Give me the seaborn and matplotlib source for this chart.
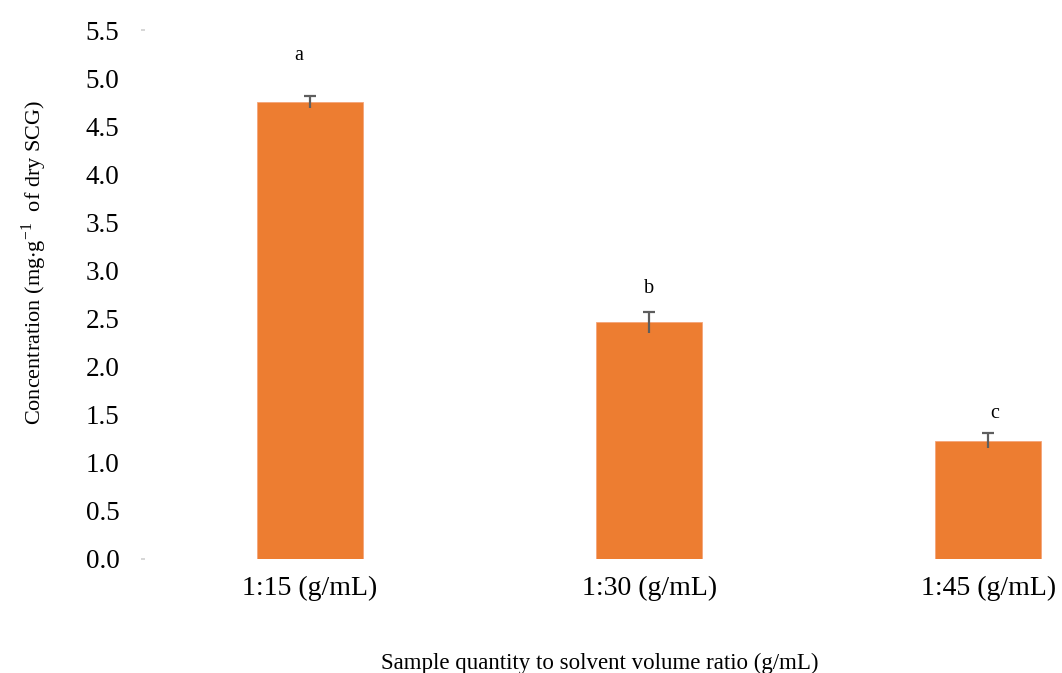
import matplotlib
matplotlib.use("Agg")
import matplotlib.pyplot as plt
import seaborn as sns
import pandas as pd

# Extraction yield for each sample-to-solvent ratio
categories = ["1:15 (g/mL)", "1:30 (g/mL)", "1:45 (g/mL)"]
means = [4.75, 2.46, 1.23]
errors = [0.06, 0.11, 0.08]
letters = ["a", "b", "c"]
yticks = [0.0, 0.5, 1.0, 1.5, 2.0, 2.5, 3.0, 3.5, 4.0, 4.5, 5.0, 5.5]

df = pd.DataFrame({"ratio": categories, "conc": means})

sns.set_theme(style="white")
plt.rcParams["font.family"] = ["Liberation Serif", "DejaVu Serif"]
plt.rcParams["mathtext.fontset"] = "stix"

fig = plt.figure(figsize=(10.62, 6.73), dpi=100)
ax = fig.add_axes([145 / 1062, 114 / 673, (1062 - 145) / 1062, 529 / 673])

sns.barplot(data=df, x="ratio", y="conc", color="#ED7D31", saturation=1,
            width=0.313, ax=ax, edgecolor="#F4A57A", linewidth=0.6)

# Upper error bars with a cap on top only
_, caps, _ = ax.errorbar(range(len(categories)), means, yerr=errors, fmt="none",
                         ecolor="#5E5E5E", elinewidth=1.6, capsize=4.5,
                         capthick=1.6, zorder=5)
caps[0].set_visible(False)

# Significance letters above each bar
letter_dx = [-0.035, 0.0, 0.02]
letter_gap = [0.42, 0.24, 0.20]
for i, (m, e, t) in enumerate(zip(means, errors, letters)):
    ax.text(i + letter_dx[i], m + e + letter_gap[i], t, ha="center",
            va="center", fontsize=14.5, color="black")

ax.set_xlim(-0.487, 2.218)
ax.set_ylim(0, 5.5)
ax.set_yticks(yticks)
ax.set_yticklabels([f"{v:.1f}" for v in yticks])
ax.tick_params(axis="y", length=3, width=1.2, color="#D0D0D0", pad=15.5,
               labelsize=19.5, labelcolor="black", left=True, direction="out")
ax.tick_params(axis="x", length=0, pad=12, labelsize=20, labelcolor="black")
# faint tick marks only at the ends of the value axis
for i, t in enumerate(ax.yaxis.get_major_ticks()):
    if i not in (0, len(yticks) - 1):
        t.tick1line.set_visible(False)
for s in ax.spines.values():
    s.set_visible(False)

ax.set_xlabel("Sample quantity to solvent volume ratio (g/mL)", fontsize=16.5,
              color="black")
ax.xaxis.set_label_coords(0.496, -0.178)
ax.set_ylabel(r"Concentration (mg$\cdot$g$^{\mathregular{-1}}$  of dry SCG)",
              fontsize=16, color="black")
ax.yaxis.set_label_coords(-0.105, 0.561)

fig.savefig("out.png", dpi=100)
